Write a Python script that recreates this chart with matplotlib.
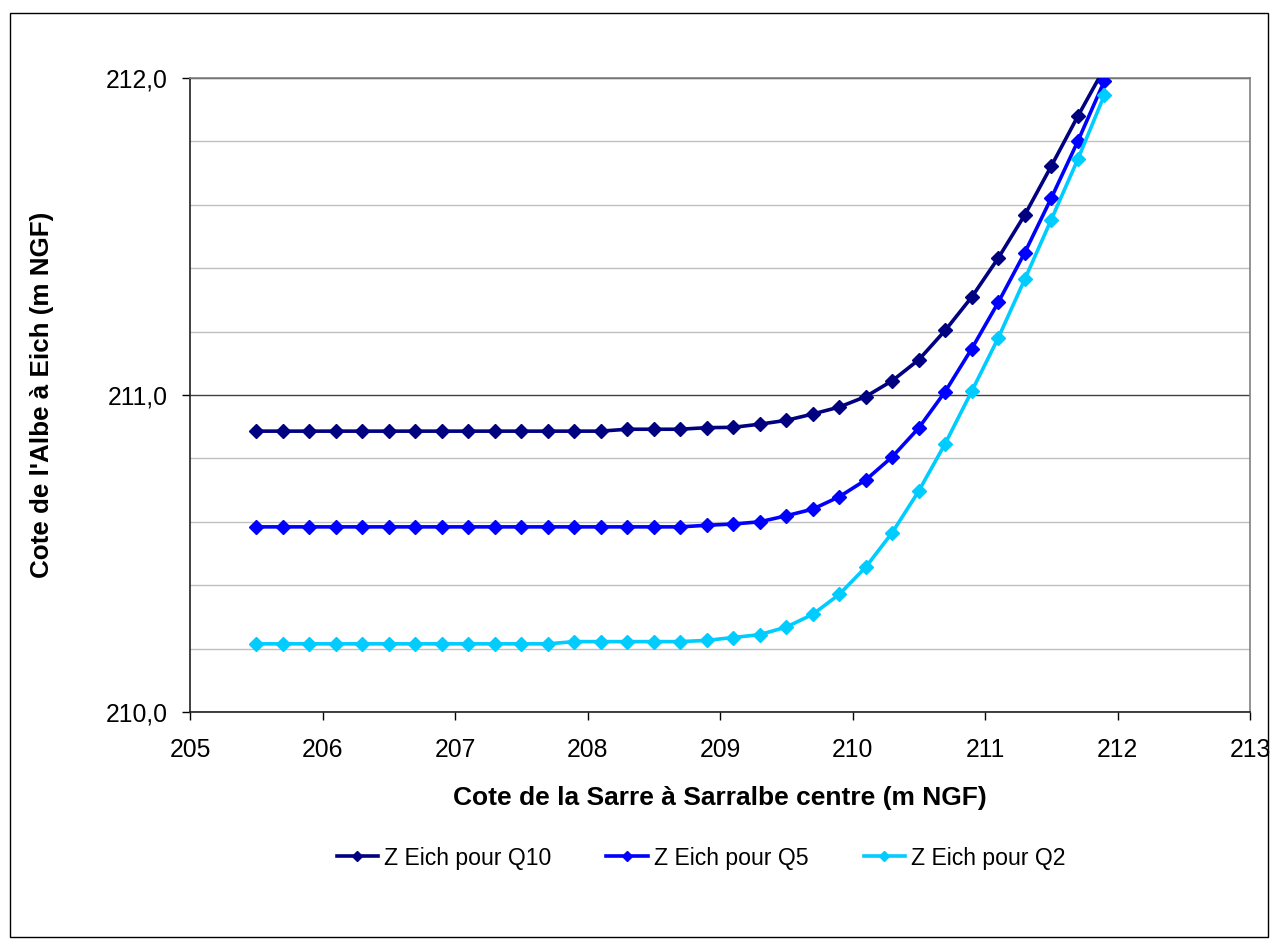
import matplotlib
matplotlib.use("Agg")
import matplotlib.pyplot as plt
from matplotlib.ticker import MultipleLocator, FuncFormatter
from matplotlib.patches import Rectangle

x_sarre = [205.5, 205.7, 205.9, 206.1, 206.3, 206.5, 206.7, 206.9, 207.1, 207.3,
           207.5, 207.7, 207.9, 208.1, 208.3, 208.5, 208.7, 208.9, 209.1, 209.3,
           209.5, 209.7, 209.9, 210.1, 210.3, 210.5, 210.7, 210.9, 211.1, 211.3,
           211.5, 211.7, 211.9]

z_q10 = [210.886, 210.886, 210.886, 210.886, 210.886, 210.886, 210.886, 210.886,
         210.886, 210.886, 210.886, 210.886, 210.886, 210.886, 210.892, 210.892,
         210.892, 210.897, 210.898, 210.908, 210.920, 210.940, 210.962, 210.995,
         211.045, 211.111, 211.204, 211.309, 211.432, 211.568, 211.722, 211.879,
         212.03]

z_q5 = [210.584, 210.584, 210.584, 210.584, 210.584, 210.584, 210.584, 210.584,
        210.584, 210.584, 210.584, 210.584, 210.584, 210.584, 210.584, 210.584,
        210.584, 210.589, 210.593, 210.600, 210.619, 210.640, 210.679, 210.732,
        210.805, 210.896, 211.011, 211.146, 211.292, 211.449, 211.621, 211.800,
        211.990]

z_q2 = [210.215, 210.215, 210.215, 210.215, 210.215, 210.215, 210.215, 210.215,
        210.215, 210.215, 210.215, 210.215, 210.222, 210.222, 210.222, 210.222,
        210.222, 210.226, 210.235, 210.244, 210.268, 210.308, 210.371, 210.457,
        210.566, 210.697, 210.847, 211.012, 211.180, 211.365, 211.553, 211.743,
        211.945]

series_labels = ["Z Eich pour Q10", "Z Eich pour Q5", "Z Eich pour Q2"]
series_colors = ["#000080", "#0000FF", "#00CCFF"]

plt.rcParams['font.family'] = ['Liberation Sans', 'DejaVu Sans']

W, H = 1270, 939
fig = plt.figure(figsize=(W / 100, H / 100), dpi=100)
fig.patch.set_facecolor("white")

# outer border
fig.add_artist(Rectangle((10 / W, 1 - 937 / H), (1268 - 10) / W, (937 - 13) / H,
                         transform=fig.transFigure, fill=False,
                         edgecolor="black", linewidth=1.0))

left, right, top, bottom = 190, 1250, 78, 712
ax = fig.add_axes([left / W, 1 - bottom / H, (right - left) / W, (bottom - top) / H])

for ys, lab, col in zip([z_q10, z_q5, z_q2], series_labels, series_colors):
    ax.plot(x_sarre, ys, color=col, linewidth=2.6, marker="D", markersize=7.5,
            markeredgecolor=col, markerfacecolor=col, label=lab, zorder=3)

ax.set_xlim(205, 213)
ax.set_ylim(210, 212)
ax.xaxis.set_major_locator(MultipleLocator(1))
ax.yaxis.set_major_locator(MultipleLocator(1))
ax.yaxis.set_minor_locator(MultipleLocator(0.2))
ax.yaxis.set_major_formatter(FuncFormatter(lambda v, p: f"{v:.1f}".replace(".", ",")))
ax.xaxis.set_major_formatter(FuncFormatter(lambda v, p: f"{int(round(v))}"))

ax.grid(which="minor", axis="y", color="#C0C0C0", linewidth=1.0, zorder=0)
ax.grid(which="major", axis="y", color="#404040", linewidth=1.0, zorder=0)
ax.set_axisbelow(True)

for s in ["left", "bottom"]:
    ax.spines[s].set_color("#202020")
    ax.spines[s].set_linewidth(1.2)
for s in ["top", "right"]:
    ax.spines[s].set_color("#808080")
    ax.spines[s].set_linewidth(1.2)

ax.tick_params(axis="both", which="major", direction="out", length=6, width=1,
               labelsize=17.8, colors="black")
ax.tick_params(axis="x", which="major", pad=13)
ax.tick_params(axis="y", which="minor", length=0)
ax.tick_params(axis="y", which="major", pad=10)

ax.set_xlabel("Cote de la Sarre à Sarralbe centre (m NGF)", fontsize=19,
              fontweight="bold", labelpad=17)
ax.set_ylabel("Cote de l'Albe à Eich (m NGF)", fontsize=18.7, fontweight="bold",
              labelpad=37)

leg = fig.legend(loc="center", bbox_to_anchor=(701 / W, 1 - 858 / H), ncol=3,
                 frameon=False, fontsize=16.6, handlelength=1.8, columnspacing=2.4,
                 handletextpad=0.25, markerscale=0.7)

fig.savefig("out.png", dpi=100, facecolor="white")
